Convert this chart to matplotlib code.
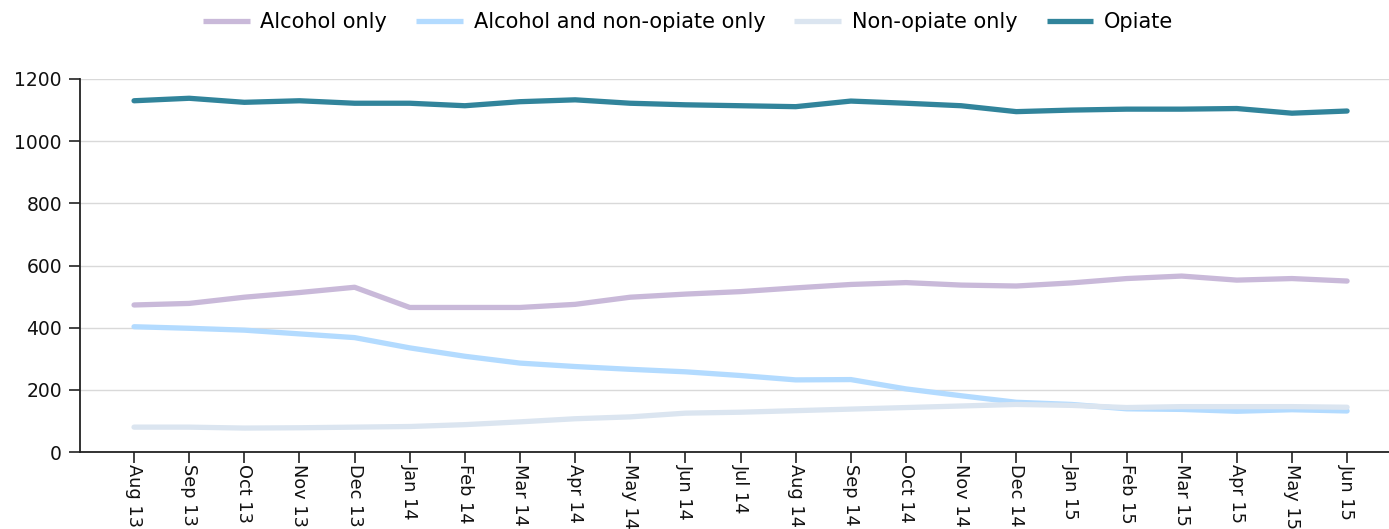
import matplotlib
matplotlib.use("Agg")
import matplotlib.pyplot as plt

months = ["Aug 13", "Sep 13", "Oct 13", "Nov 13", "Dec 13", "Jan 14", "Feb 14", "Mar 14",
          "Apr 14", "May 14", "Jun 14", "Jul 14", "Aug 14", "Sep 14", "Oct 14", "Nov 14",
          "Dec 14", "Jan 15", "Feb 15", "Mar 15", "Apr 15", "May 15", "Jun 15"]

alcohol_only = [473, 478, 498, 513, 530, 465, 465, 465, 475, 498, 508, 516,
                528, 539, 545, 537, 534, 544, 558, 566, 553, 558, 550]
alcohol_nonopiate = [403, 398, 392, 380, 368, 335, 308, 286, 275, 266, 258, 246,
                     232, 233, 203, 181, 160, 153, 139, 137, 131, 136, 132]
nonopiate_only = [80, 80, 77, 78, 80, 82, 88, 97, 107, 113, 125, 128,
                  133, 138, 143, 148, 153, 150, 143, 146, 146, 146, 144]
opiate = [1130, 1138, 1125, 1130, 1122, 1122, 1114, 1127, 1133, 1122, 1117, 1114,
          1111, 1129, 1122, 1114, 1095, 1100, 1103, 1103, 1105, 1090, 1097]

series = [
    ("Alcohol only", alcohol_only, "#c9b9d9"),
    ("Alcohol and non-opiate only", alcohol_nonopiate, "#b3dbff"),
    ("Non-opiate only", nonopiate_only, "#dbe5f0"),
    ("Opiate", opiate, "#31849b"),
]

plt.rcParams['font.family'] = ['DejaVu Sans']

fig = plt.figure(figsize=(13.89, 5.29), dpi=100)
ax = fig.add_axes([80/1389, 1-452/529, 1-80/1389, (452-79)/529])

x = list(range(len(months)))
handles = []
for name, vals, col in series:
    h, = ax.plot(x, vals, color=col, lw=3.8, solid_capstyle='round', solid_joinstyle='round', label=name)
    handles.append(h)

ax.set_ylim(0, 1200)
ax.set_xlim(-0.98, 22.76)
ax.set_yticks([0, 200, 400, 600, 800, 1000, 1200])
ax.set_xticks(x)
ax.set_xticklabels(months, rotation=270, ha='center', va='top', fontsize=12.8)
ax.yaxis.grid(True, color='#d9d9d9', lw=1)
ax.set_axisbelow(True)
for s in ['top', 'right']:
    ax.spines[s].set_visible(False)
ax.spines['left'].set_color('#222222')
ax.spines['bottom'].set_color('#222222')
ax.spines['left'].set_linewidth(1.3)
ax.spines['bottom'].set_linewidth(1.3)
ax.tick_params(axis='both', length=8, width=1.2, color='#222222', labelcolor='#111111')
ax.tick_params(axis='y', labelsize=13.5, pad=5)
ax.tick_params(axis='x', pad=1)

leg = fig.legend(handles=handles, loc='center', bbox_to_anchor=(688/1389, 1-22/529), ncol=4,
                 frameon=False, fontsize=15, handlelength=2.25, handletextpad=0.5,
                 columnspacing=1.4)
for lh in leg.get_lines():
    lh.set_solid_capstyle('butt')

fig.savefig("out.png", dpi=100)
